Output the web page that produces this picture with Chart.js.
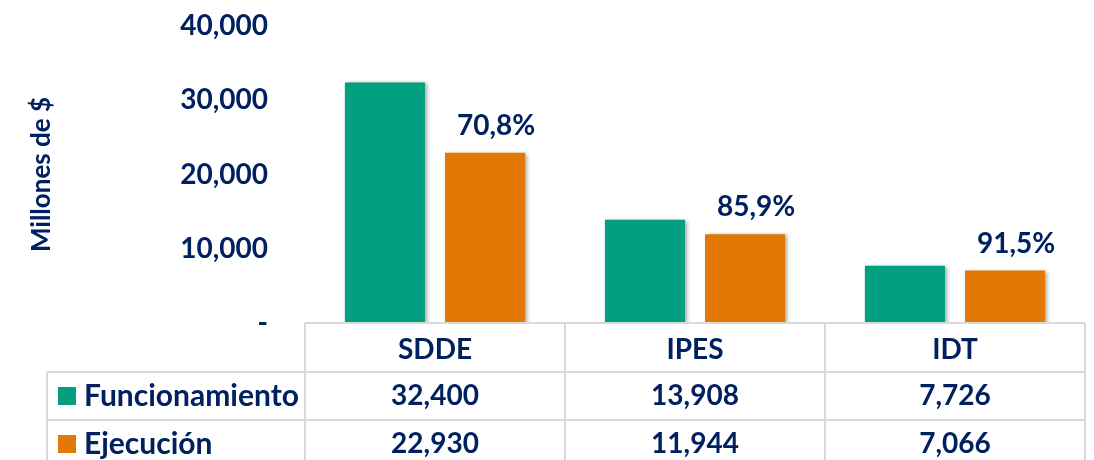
<!DOCTYPE html>
<html>
<head>
<meta charset="utf-8">
<script src="https://cdn.jsdelivr.net/npm/chart.js@4.4.0/dist/chart.umd.min.js"></script>
<style>
  html, body { margin: 0; padding: 0; background: #fff; }
  #wrap { width: 1094px; height: 460px; }
</style>
</head>
<body>
<div id="wrap"><canvas id="presupuesto"></canvas></div>
<script>
// datos
const entidades = ['SDDE', 'IPES', 'IDT'];
const funcionamiento = [32400, 13908, 7726];
const ejecucion = [22930, 11944, 7066];
const porcentajes = ['70,8%', '85,9%', '91,5%'];
const serieNombres = ['Funcionamiento', 'Ejecución'];
const yTicks = [0, 10000, 20000, 30000, 40000];

const AZUL = '#002060';
const VERDE = '#02A081';
const NARANJA = '#E27906';
const LINEA = '#D9D9D9';
const FUENTE = 'Lato, "Open Sans", sans-serif';

function miles(v) {
  return v.toLocaleString('en-US');
}

// sombra suave de las barras
const sombra = {
  id: 'sombra',
  beforeDatasetsDraw(chart) {
    const ctx = chart.ctx;
    ctx.save();
    ctx.shadowColor = 'rgba(0,0,0,0.35)';
    ctx.shadowBlur = 4;
    ctx.shadowOffsetX = 2;
    ctx.shadowOffsetY = 1;
  },
  afterDatasetsDraw(chart) {
    chart.ctx.restore();
  }
};

// porcentaje encima de la barra de ejecucion
const etiquetas = {
  id: 'etiquetas',
  afterDatasetsDraw(chart) {
    const ctx = chart.ctx;
    const meta = chart.getDatasetMeta(1);
    ctx.save();
    ctx.fillStyle = AZUL;
    ctx.font = 'bold 28px ' + FUENTE;
    ctx.textAlign = 'center';
    ctx.textBaseline = 'middle';
    meta.data.forEach((bar, i) => {
      ctx.fillText(porcentajes[i], bar.x + 11, bar.y - 27);
    });
    ctx.restore();
  }
};

// tabla de datos bajo el grafico
const tabla = {
  id: 'tabla',
  afterDraw(chart) {
    const ctx = chart.ctx;
    const area = chart.chartArea;
    const x = chart.scales.x;
    const n = entidades.length;
    const ancho = (area.right - area.left) / n;
    const top = area.bottom;
    const fila1 = top + 49;
    const fila2 = fila1 + 48;
    const fondo = chart.height;
    const izq = 47;

    ctx.save();
    ctx.strokeStyle = LINEA;
    ctx.lineWidth = 2;
    ctx.beginPath();
    ctx.moveTo(area.left, top); ctx.lineTo(area.right, top);
    ctx.moveTo(izq, fila1); ctx.lineTo(area.right, fila1);
    ctx.moveTo(izq, fila2); ctx.lineTo(area.right, fila2);
    ctx.moveTo(izq, fila1); ctx.lineTo(izq, fondo);
    for (let i = 0; i <= n; i++) {
      const xx = area.left + i * ancho;
      ctx.moveTo(xx, top); ctx.lineTo(xx, fondo);
    }
    ctx.stroke();

    const filas = [funcionamiento, ejecucion];
    const colores = [VERDE, NARANJA];
    ctx.textBaseline = 'middle';
    filas.forEach((vals, r) => {
      const cy = (r === 0 ? fila1 : fila2) + 24;
      ctx.fillStyle = colores[r];
      ctx.fillRect(58, cy - 9, 18, 18);
      ctx.fillStyle = AZUL;
      ctx.font = 'bold 30px ' + FUENTE;
      ctx.textAlign = 'left';
      ctx.fillText(serieNombres[r], 84, cy);
      ctx.font = 'bold 28px ' + FUENTE;
      ctx.textAlign = 'center';
      vals.forEach((v, i) => {
        ctx.fillText(miles(v), x.getPixelForValue(i), cy);
      });
    });
    ctx.restore();
  }
};

const ctxP = document.getElementById('presupuesto');
const grafico = new Chart(ctxP, {
  type: 'bar',
  data: {
    labels: entidades,
    datasets: [{
      label: serieNombres[0],
      data: funcionamiento,
      backgroundColor: VERDE,
      barPercentage: 0.8,
      categoryPercentage: 0.77
    },
    {
      label: serieNombres[1],
      data: ejecucion,
      backgroundColor: NARANJA,
      barPercentage: 0.8,
      categoryPercentage: 0.77
    }]
  },
  options: {
    responsive: true,
    maintainAspectRatio: false,
    animation: false,
    layout: {
      padding: { left: 0, right: 9, top: 26, bottom: 88 }
    },
    scales: {
      x: {
        grid: { display: false },
        border: { display: false },
        ticks: {
          color: AZUL,
          font: { family: FUENTE, size: 28, weight: 'bold' },
          padding: 2
        },
        afterFit(scale) { scale.height = 49; }
      },
      y: {
        min: 0,
        max: 40000,
        afterBuildTicks(scale) {
          scale.ticks = yTicks.map(v => ({ value: v }));
        },
        grid: { display: false, drawTicks: false },
        border: { display: false },
        ticks: {
          color: AZUL,
          font: { family: FUENTE, size: 28, weight: 'bold' },
          padding: 37,
          callback: v => v === 0 ? '-' : miles(v)
        },
        title: {
          display: true,
          text: 'Millones de $',
          color: AZUL,
          font: { family: FUENTE, size: 26, weight: 'bold' },
          padding: { top: 26, bottom: 0 }
        },
        afterFit(scale) {
          scale.width = 305;
          scale.paddingTop = 0;
          scale.paddingBottom = 0;
        }
      }
    },
    plugins: {
      legend: { display: false },
      tooltip: { enabled: false }
    }
  },
  plugins: [sombra, etiquetas, tabla]
});
</script>
</body>
</html>
